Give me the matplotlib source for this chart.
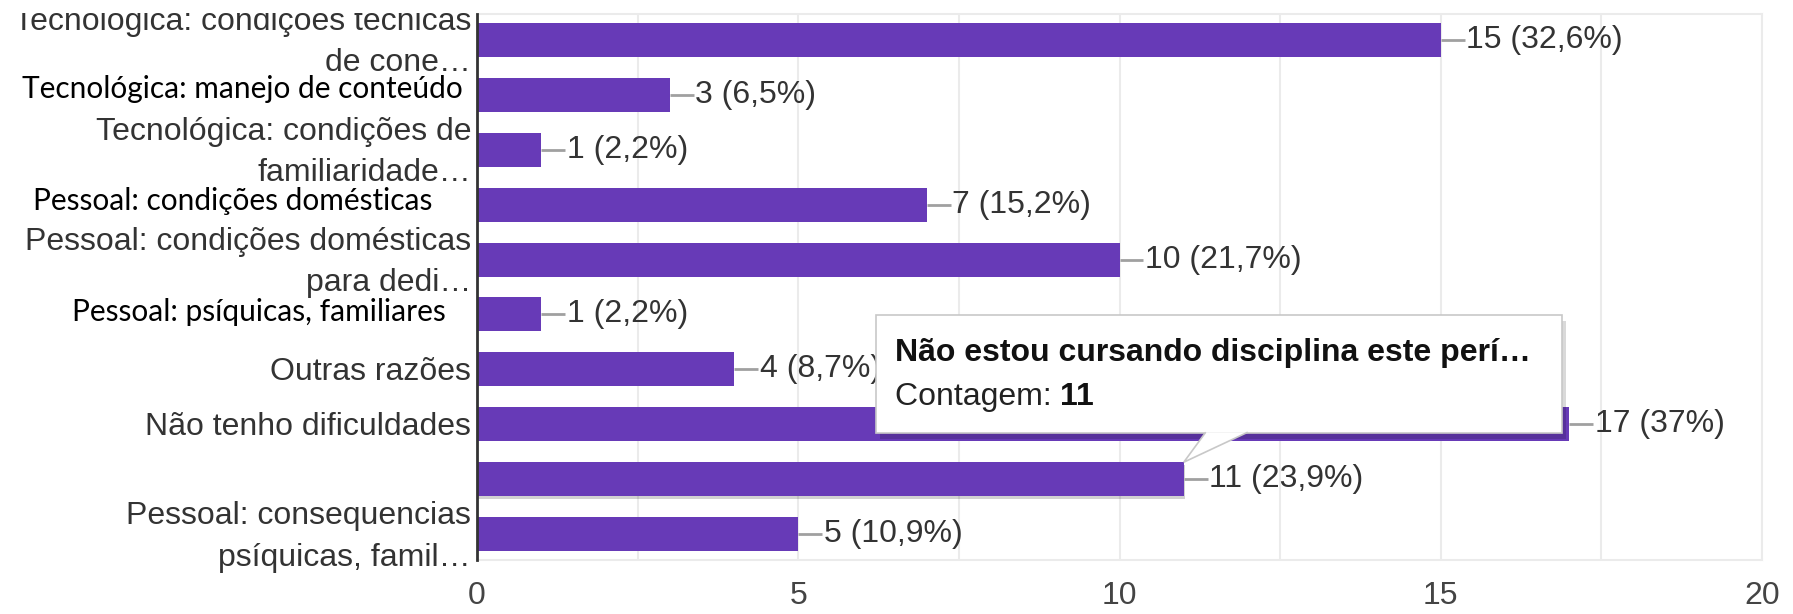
#!/usr/bin/python

"""
Horizontal bar chart (Google Forms style) of reported difficulties,
with the hover tooltip that was captured in the screenshot.
"""

# third-party modules
import numpy as np
import matplotlib
matplotlib.use('Agg')
import matplotlib.pyplot as plt
from matplotlib import patheffects, transforms
from matplotlib.patches import Rectangle, Polygon

# data
LABELS = ['Tecnológica: condições técnicas\nde cone…',
          '',
          'Tecnológica: condições de\nfamiliaridade…',
          '',
          'Pessoal: condições domésticas\npara dedi…',
          '',
          'Outras razões',
          'Não tenho dificuldades',
          '',
          'Pessoal: consequencias\npsíquicas, famil…']
OVERLAY_LABELS = ['', 'Tecnológica: manejo de conteúdo', '',
                  'Pessoal: condições domésticas ', '',
                  'Pessoal: psíquicas, familiares', '', '', '', '']
COUNTS = [15, 3, 1, 7, 10, 1, 4, 17, 11, 5]
PERCENTS = ['32,6%', '6,5%', '2,2%', '15,2%', '21,7%', '2,2%', '8,7%', '37%', '23,9%', '10,9%']
X_TICKS = [0, 5, 10, 15, 20]
TOOLTIP_TITLE = 'Não estou cursando disciplina este perí…'
TOOLTIP_KEY = 'Contagem: '
TOOLTIP_ROW = 8

# colours
c_bar = '#673ab7'
c_text = '#333333'
c_ticks = '#444444'
c_grid = '#ebebeb'
c_leader = '#a0a0a0'

W, H, DPI = 1793, 614, 100
FS = 23


def main():
    fig = plt.figure(figsize=(W / DPI, H / DPI), dpi=DPI)
    fig.patch.set_facecolor('white')
    ax = fig.add_axes([477 / W, 1 - 560 / H, (1762 - 477) / W, (560 - 14) / H])

    n = len(COUNTS)
    bar_h = 0.62
    ax.set_xlim(0, 20)
    ax.set_ylim(n - 0.53, -0.47)

    # bars, hovered one gets a soft drop shadow
    bars = ax.barh(range(n), COUNTS, height=bar_h, color=c_bar, zorder=2)
    bars[TOOLTIP_ROW].set_path_effects([
        patheffects.SimplePatchShadow(offset=(1, -2), shadow_rgbFace='black', alpha=0.18),
        patheffects.Normal()])

    # value labels with short leader line
    for i, (v, p) in enumerate(zip(COUNTS, PERCENTS)):
        ax.plot([v, v + 0.37], [i, i], color=c_leader, lw=2, zorder=2, solid_capstyle='butt')
        ax.text(v + 0.40, i, '{} ({})'.format(v, p), ha='left', va='center',
                fontsize=FS, color=c_text, family='Liberation Sans', zorder=2)

    # grid and axes styling
    ax.set_xticks(X_TICKS)
    ax.set_xticks(np.arange(2.5, 20, 5), minor=True)
    ax.set_yticks([])
    ax.grid(True, axis='x', which='both', color=c_grid, lw=1.5, zorder=0)
    ax.set_axisbelow(True)
    ax.tick_params(axis='x', which='both', length=0, pad=15, labelsize=FS, labelcolor=c_ticks)
    for lab in ax.get_xticklabels():
        lab.set_family('Liberation Sans')
    for side in ['top', 'right', 'bottom']:
        ax.spines[side].set_color(c_grid)
        ax.spines[side].set_linewidth(1.5)
    ax.spines['left'].set_color('#333333')
    ax.spines['left'].set_linewidth(2)
    ax.spines['left'].set_zorder(3)

    # category labels (screenshot top is cropped)
    clip = transforms.Bbox.from_extents(0, 0, W, H - 13)
    lab_tr = transforms.offset_copy(ax.get_yaxis_transform(), fig=fig, x=-6, y=0, units='dots')
    for i, lab in enumerate(LABELS):
        if not lab:
            continue
        t = ax.text(0, i + 0.05, lab, transform=lab_tr, ha='right', va='center',
                    multialignment='right', linespacing=1.5, fontsize=FS,
                    color=c_text, family='Liberation Sans', clip_on=True)
        t.set_clip_box(clip)

    # pasted-over labels (different font, black)
    shifts = {1: (-14, 6), 3: (-37, 4), 5: (-31, 2)}
    for i, lab in enumerate(OVERLAY_LABELS):
        if not lab:
            continue
        dx, dy = shifts.get(i, (-14, 0))
        tr = transforms.offset_copy(ax.get_yaxis_transform(), fig=fig, x=dx, y=dy, units='dots')
        ax.text(0, i, lab, transform=tr, ha='right', va='center', fontsize=21.5,
                color='black', family='Lato')

    draw_tooltip(fig, ax, COUNTS[TOOLTIP_ROW], TOOLTIP_ROW - bar_h / 2)

    fig.savefig('out.png', dpi=DPI, facecolor='white')


def draw_tooltip(fig, ax, x, y):
    "Tooltip box with a pointer to the hovered bar end."
    tx, ty = ax.transData.transform((x, y))
    ident = transforms.IdentityTransform()

    box = Rectangle((tx - 308, ty + 29), 686, 118, transform=ident, facecolor='white',
                    edgecolor='#c8c8c8', lw=1.2, zorder=10)
    box.set_path_effects([
        patheffects.SimplePatchShadow(offset=(3, -4), shadow_rgbFace='black', alpha=0.15),
        patheffects.Normal()])
    fig.add_artist(box)

    tip = Polygon([(tx + 22, ty + 30), (tx, ty), (tx + 64, ty + 30)], closed=False,
                  transform=ident, facecolor='white', edgecolor='#c8c8c8', lw=1.2, zorder=11)
    fig.add_artist(tip)

    fig.text(tx - 289, ty + 109, TOOLTIP_TITLE, transform=ident, ha='left', va='center',
             fontsize=FS, fontweight='bold', color='#111111', family='Liberation Sans',
             zorder=12)
    key = fig.text(tx - 289, ty + 65, TOOLTIP_KEY, transform=ident, ha='left', va='center',
                   fontsize=FS, color='#222222', family='Liberation Sans', zorder=12)
    ext = key.get_window_extent(fig.canvas.get_renderer())
    fig.text(ext.x1, ty + 65, str(COUNTS[TOOLTIP_ROW]), transform=ident, ha='left',
             va='center', fontsize=FS, fontweight='bold', color='#111111',
             family='Liberation Sans', zorder=12)


if __name__ == "__main__":
    main()
